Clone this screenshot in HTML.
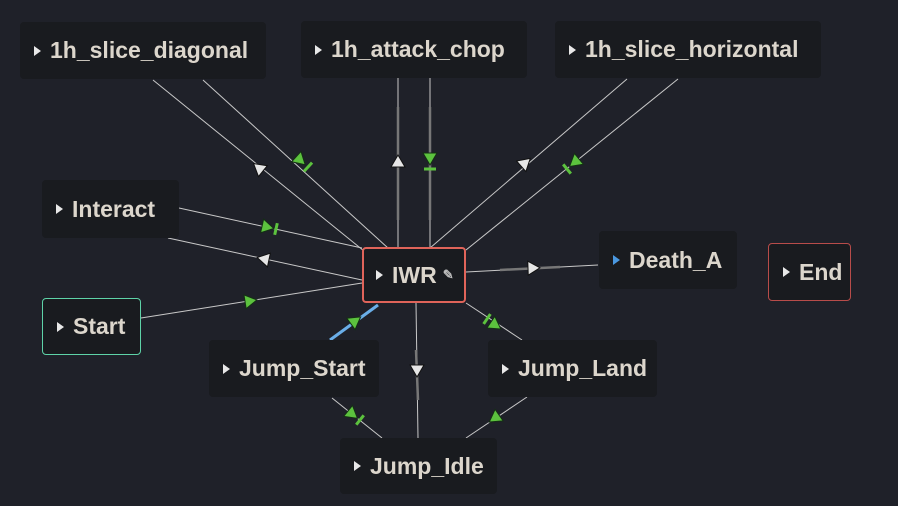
<!DOCTYPE html>
<html><head><meta charset="utf-8"><style>
html,body{margin:0;padding:0;background:#1f2129;width:898px;height:506px;overflow:hidden}
.n{position:absolute;background:#191b1f;border-radius:4px;box-sizing:border-box;color:#dcd6cc;font:bold 23px "Liberation Sans",sans-serif;display:flex;align-items:center;padding-left:14px;white-space:nowrap}
.n i{display:inline-block;width:0;height:0;border-left:7px solid #e8e8e8;border-top:5px solid transparent;border-bottom:5px solid transparent;margin-right:9px}
</style></head><body>
<svg width="898" height="506" style="position:absolute;left:0;top:0">
<defs>
<polygon id="tw" points="7,0 -5,-7 -5,7" fill="#e6e6e6" stroke="#111" stroke-width="1"/>
<polygon id="tg" points="7,0 -5,-7 -5,7" fill="#5cc23e" stroke="#143014" stroke-width="1"/>
<line id="bg" x1="0" y1="-6" x2="0" y2="6" stroke="#5cc23e" stroke-width="3"/>
</defs>
<g stroke="#c8c8c8" stroke-width="1" fill="none">
<line x1="153" y1="80" x2="364" y2="251"/>
<line x1="203" y1="80" x2="388" y2="248"/>
<line x1="398" y1="78" x2="398" y2="248"/>
<line x1="430" y1="78" x2="430" y2="248"/>
<line x1="627" y1="79" x2="430" y2="248"/>
<line x1="678" y1="79" x2="466" y2="250"/>
<line x1="179" y1="208" x2="362" y2="248"/>
<line x1="168" y1="238" x2="362" y2="280"/>
<line x1="141" y1="318" x2="362" y2="283"/>
<line x1="466" y1="272" x2="598" y2="265"/>
<line x1="466" y1="303" x2="522" y2="340"/>
<line x1="416" y1="303" x2="418" y2="438"/>
<line x1="332" y1="398" x2="382" y2="438"/>
<line x1="527" y1="397" x2="466" y2="438"/>
</g>
<g stroke="#777" stroke-width="2.5">
<line x1="398" y1="107" x2="398" y2="220"/>
<line x1="430" y1="107" x2="430" y2="220"/>
<line x1="416" y1="350" x2="418" y2="400"/>
<line x1="500" y1="270" x2="560" y2="267"/>
</g>
<line x1="330" y1="340" x2="378" y2="305" stroke="#6aaee8" stroke-width="3"/>
<use href="#tw" transform="translate(259,168) rotate(219)"/>
<use href="#tg" transform="translate(300,160) rotate(42.5)"/><use href="#bg" transform="translate(308,167) rotate(42.5)"/>
<use href="#tw" transform="translate(398,162) rotate(-90)"/>
<use href="#tg" transform="translate(430,158) rotate(90)"/><use href="#bg" transform="translate(430,169) rotate(90)"/>
<use href="#tw" transform="translate(525,163) rotate(-41.5)"/>
<use href="#tg" transform="translate(575,162) rotate(140.6)"/><use href="#bg" transform="translate(567,169) rotate(140.6)"/>
<use href="#tg" transform="translate(267,227) rotate(12.6)"/><use href="#bg" transform="translate(276,229) rotate(12.6)"/>
<use href="#tw" transform="translate(264,259) rotate(192)"/>
<use href="#tg" transform="translate(250,301) rotate(-9)"/>
<use href="#tw" transform="translate(533,268) rotate(-2)"/>
<use href="#tg" transform="translate(355,321) rotate(-36)"/>
<use href="#tg" transform="translate(495,325) rotate(34.4)"/><use href="#bg" transform="translate(487,319) rotate(34.4)"/>
<use href="#tw" transform="translate(417,370) rotate(90)"/>
<use href="#tg" transform="translate(352,414) rotate(38.7)"/><use href="#bg" transform="translate(360,420) rotate(38.7)"/>
<use href="#tg" transform="translate(495,418) rotate(145)"/>
</svg>
<div class="n" style="left:20px;top:22px;width:246px;height:57px"><i></i>1h_slice_diagonal</div>
<div class="n" style="left:301px;top:21px;width:226px;height:57px"><i></i>1h_attack_chop</div>
<div class="n" style="left:555px;top:21px;width:266px;height:57px"><i></i>1h_slice_horizontal</div>
<div class="n" style="left:42px;top:180px;width:137px;height:58px"><i></i>Interact</div>
<div class="n" style="left:362px;top:247px;width:104px;height:56px;border:2px solid #e0645a;padding-left:12px"><i></i>IWR<span style="font-size:13px;color:#bbb;margin-left:6px">✎</span></div>
<div class="n" style="left:599px;top:231px;width:138px;height:58px"><i style="border-left-color:#4a98e0"></i>Death_A</div>
<div class="n" style="left:768px;top:243px;width:83px;height:58px;border:1.5px solid #b84c4a;padding-left:14px"><i></i>End</div>
<div class="n" style="left:42px;top:298px;width:99px;height:57px;border:1.5px solid #5ed3a8;padding-left:14px"><i></i>Start</div>
<div class="n" style="left:209px;top:340px;width:170px;height:57px"><i></i>Jump_Start</div>
<div class="n" style="left:488px;top:340px;width:169px;height:57px"><i></i>Jump_Land</div>
<div class="n" style="left:340px;top:438px;width:157px;height:56px"><i></i>Jump_Idle</div>
</body></html>
